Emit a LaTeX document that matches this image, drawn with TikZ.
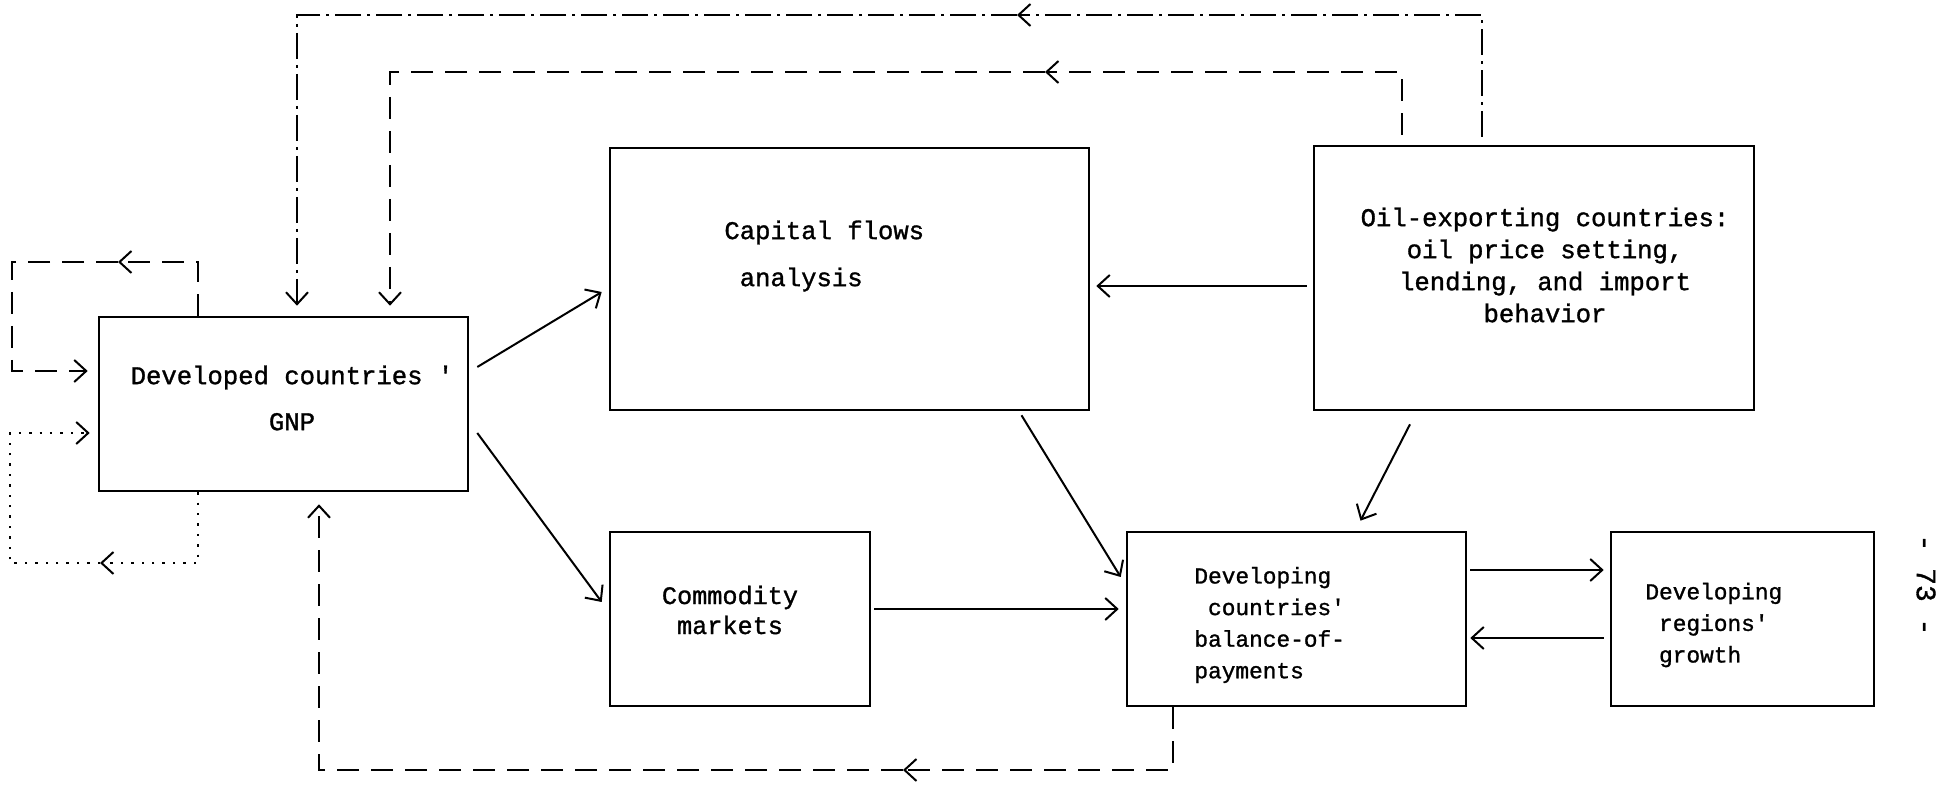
\documentclass[tikz,border=0pt]{standalone}
\usepackage{fontspec}
\setmainfont{Liberation Mono}[Ligatures=TeXOff, FakeBold=1.2]
\usetikzlibrary{arrows.meta}

\begin{document}
\begin{tikzpicture}[
    x=0.5pt, y=-0.5pt,
    >={Straight Barb[length=6pt,width=11pt]},
    box/.style = {draw, line width=1.3pt, inner sep=0pt},
    txt/.style = {inner sep=0pt, font=\fontsize{12.8}{23}\selectfont},
    txtc/.style = {inner sep=0pt, font=\fontsize{11.4}{15.8}\selectfont},
    flow/.style = {line width=1pt},
    loopdash/.style = {line width=1pt, dash pattern=on 11pt off 6pt},
    loopdot/.style = {line width=1pt, dash pattern=on 1.2pt off 4pt},
    loopdashdot/.style = {line width=1pt, dash pattern=on 13pt off 3pt on 1.5pt off 3pt},
  ]
  \useasboundingbox (0,0) rectangle (1940,785);

  % boxes
  \node[box, minimum width=184.5pt, minimum height=87pt] (gnp) at (283.5,404) {};
  \node[box, minimum width=239.5pt, minimum height=131pt] (cap) at (849.5,279) {};
  \node[box, minimum width=220pt, minimum height=132pt] (oil) at (1534,278) {};
  \node[box, minimum width=130pt, minimum height=87pt] (comm) at (740,619) {};
  \node[box, minimum width=169.5pt, minimum height=87pt] (bop) at (1296.5,619) {};
  \node[box, minimum width=131.5pt, minimum height=87pt] (grow) at (1742.5,619) {};

  % texts
  \node[txt, align=center] (gnptxt) at (292,398) {Developed countries '\\GNP};
  \node[txt, align=left, anchor=west, font=\fontsize{12.8}{23.5}\selectfont] (captxt) at (724,256)
    {Capital flows\\\hspace*{0.6em}analysis};
  \node[txt, align=center, font=\fontsize{12.8}{16}\selectfont] (oiltxt) at (1545,265)
    {Oil-exporting countries:\\oil price setting,\\lending, and import\\behavior};
  \node[txtc, align=center, font=\fontsize{12.6}{15}\selectfont] (commtxt) at (730,610) {Commodity\\markets};
  \node[txtc, align=left, anchor=west] (boptxt) at (1194,625)
    {Developing\\\hspace*{0.6em}countries'\\balance-of-\\payments};
  \node[txtc, align=left, anchor=west] (growtxt) at (1645,625)
    {Developing\\\hspace*{0.6em}regions'\\\hspace*{0.6em}growth};
  \node[rotate=-90, inner sep=0pt, font=\fontsize{14}{16}\selectfont] (pageno) at (1926,585) {- 73 -};

  % solid flows
  \draw[flow,->] ([shift={(8,-37)}]gnp.east) -- ([shift={(-7,13)}]cap.west);
  \draw[flow,->] ([shift={(8,29)}]gnp.east) -- ([shift={(-7,-17)}]comm.west);
  \draw[flow,->] ([shift={(-6,8)}]oil.west) -- ([shift={(6,7)}]cap.east);
  \draw[flow,->] ([shift={(-124,13)}]oil.south) -- ([shift={(64,-10)}]bop.north);
  \draw[flow,->] ([shift={(172,4)}]cap.south) -- ([shift={(-5,-42)}]bop.west);
  \draw[flow,->] ([shift={(3,-10)}]comm.east) -- ([shift={(-7,-10)}]bop.west);
  \draw[flow,->] ([shift={(3,-49)}]bop.east) -- ([shift={(-6,-49)}]grow.west);
  \draw[flow,->] ([shift={(-6,19)}]grow.west) -- ([shift={(3,19)}]bop.east);

  % outer loop, oil countries back to GNP
  \coordinate (oc1) at (1482,15);
  \coordinate (oc2) at (1017,15);
  \coordinate (oc3) at (297,15);
  \draw[loopdashdot,->,shorten <=4pt] (oil.north -| oc1) -- (oc1) -- (oc2);
  \draw[loopdashdot,->,shorten >=5pt] (oc2) -- (oc3) -- (gnp.north -| oc3);

  % inner loop
  \coordinate (ic1) at (1402,72);
  \coordinate (ic2) at (1045,72);
  \coordinate (ic3) at (390,72);
  \draw[loopdash,->,shorten <=5pt] (oil.north -| ic1) -- (ic1) -- (ic2);
  \draw[loopdash,->,shorten >=5pt] (ic2) -- (ic3) -- (gnp.north -| ic3);

  % GNP feeding itself
  \coordinate (lc1) at (198,262);
  \coordinate (lc2) at (118,262);
  \coordinate (lc3) at (12,262);
  \coordinate (lc4) at (12,371);
  \draw[loopdash,->] (gnp.north -| lc1) -- (lc1) -- (lc2);
  \draw[loopdash,->,shorten >=5pt] (lc2) -- (lc3) -- (lc4) -- (gnp.west |- lc4);

  \coordinate (dc1) at (198,563);
  \coordinate (dc2) at (100,563);
  \coordinate (dc3) at (10,563);
  \coordinate (dc4) at (10,433);
  \draw[loopdot,->] (gnp.south -| dc1) -- (dc1) -- (dc2);
  \draw[loopdot,->,shorten >=4pt] (dc2) -- (dc3) -- (dc4) -- (gnp.west |- dc4);

  % balance of payments back to GNP
  \coordinate (bc1) at (1173,770);
  \coordinate (bc2) at (903,770);
  \coordinate (bc3) at (319,770);
  \draw[loopdash,->] (bop.south -| bc1) -- (bc1) -- (bc2);
  \draw[loopdash,->,shorten >=6pt] (bc2) -- (bc3) -- (gnp.south -| bc3);
\end{tikzpicture}
\end{document}
